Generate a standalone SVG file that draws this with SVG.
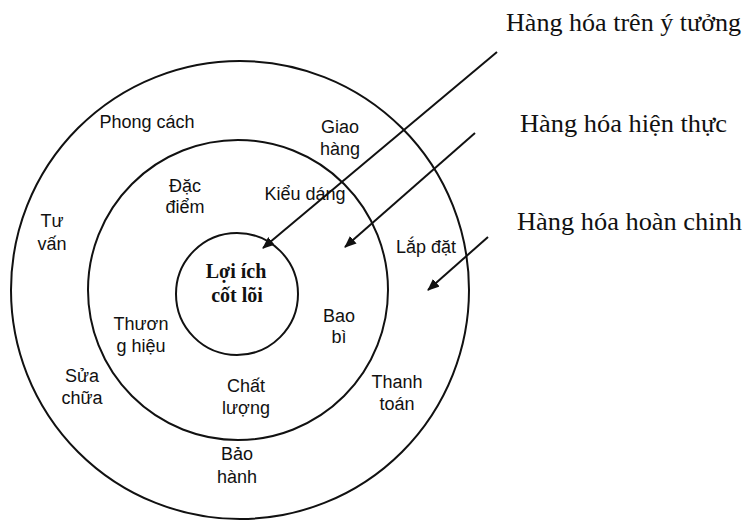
<svg xmlns="http://www.w3.org/2000/svg" width="746" height="522" viewBox="0 0 746 522">
<style>
.ring{fill:none;stroke:#111;stroke-width:2}
.lbl{font-family:"Liberation Sans",Arial,sans-serif;font-size:18px;fill:#111;text-anchor:middle}
.ser{font-family:"Liberation Serif","Times New Roman",serif;font-size:25px;fill:#111}
.core{font-family:"Liberation Serif","Times New Roman",serif;font-size:20px;font-weight:bold;fill:#111;text-anchor:middle}
.arr{stroke:#111;stroke-width:2;fill:none;marker-end:url(#ah)}
</style>
<defs>
<marker id="ah" viewBox="0 0 12 10" refX="11" refY="5" markerWidth="12" markerHeight="10" markerUnits="userSpaceOnUse" orient="auto">
<path d="M0,0 L12,5 L0,10 Z" fill="#111"/>
</marker>
</defs>
<rect width="746" height="522" fill="#fff"/>
<g id="outer">
<circle class="ring" cx="240" cy="290" r="229"/>
</g>
<g id="middle">
<circle class="ring" cx="238" cy="290" r="150"/>
</g>
<g id="core">
<circle class="ring" cx="237" cy="294" r="61"/>
<text class="core" x="236" y="278">Lợi ích</text>
<text class="core" x="237" y="302">cốt lõi</text>
</g>
<g id="n-phongcach"><text class="lbl" x="147" y="128">Phong cách</text></g>
<g id="n-tuvan"><text class="lbl" x="52" y="227">Tư</text><text class="lbl" x="52" y="250">vấn</text></g>
<g id="n-dacdiem"><text class="lbl" x="185" y="192">Đặc</text><text class="lbl" x="185" y="213">điểm</text></g>
<g id="n-giaohang"><text class="lbl" x="340" y="133">Giao</text><text class="lbl" x="340" y="155">hàng</text></g>
<g id="n-kieudang"><text class="lbl" x="305" y="200">Kiểu dáng</text></g>
<g id="n-lapdat"><text class="lbl" x="426" y="253">Lắp đặt</text></g>
<g id="n-baobi"><text class="lbl" x="339" y="322">Bao</text><text class="lbl" x="339" y="343">bì</text></g>
<g id="n-thuonghieu"><text class="lbl" x="141" y="330">Thươn</text><text class="lbl" x="141" y="352">g hiệu</text></g>
<g id="n-suachua"><text class="lbl" x="82" y="382">Sửa</text><text class="lbl" x="82" y="404">chữa</text></g>
<g id="n-chatluong"><text class="lbl" x="246" y="392">Chất</text><text class="lbl" x="246" y="414">lượng</text></g>
<g id="n-thanhtoan"><text class="lbl" x="397" y="388">Thanh</text><text class="lbl" x="397" y="410">toán</text></g>
<g id="n-baohanh"><text class="lbl" x="237" y="460">Bảo</text><text class="lbl" x="237" y="483">hành</text></g>
<g id="t-ytuong"><text class="ser" x="506" y="31" textLength="235" lengthAdjust="spacingAndGlyphs">Hàng hóa trên ý tưởng</text></g>
<g id="t-hienthuc"><text class="ser" x="520" y="132" textLength="207" lengthAdjust="spacingAndGlyphs">Hàng hóa hiện thực</text></g>
<g id="t-hoanchinh"><text class="ser" x="517" y="230" textLength="225" lengthAdjust="spacingAndGlyphs">Hàng hóa hoàn chinh</text></g>
<g id="connectors">
<line class="arr" x1="497" y1="52" x2="263" y2="248"/>
<line class="arr" x1="475" y1="133" x2="345" y2="247"/>
<line class="arr" x1="488" y1="237" x2="428" y2="290"/>
</g>
</svg>
